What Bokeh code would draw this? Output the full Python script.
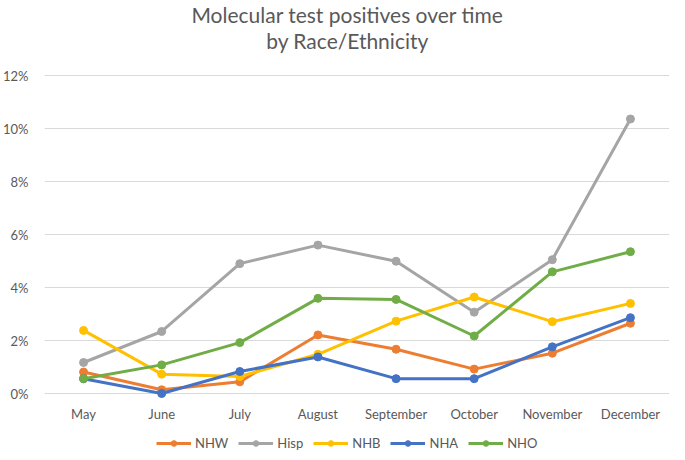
from bokeh.plotting import figure
from bokeh.models import (FactorRange, Range1d, PrintfTickFormatter, FixedTicker, Legend,
                          LegendItem, Label, LabelSet, ColumnDataSource)
from bokeh.core.properties import value
from bokeh.embed import file_html
from bokeh.resources import INLINE

months = ["May", "June", "July", "August", "September", "October", "November", "December"]
nhw = [0.81, 0.14, 0.44, 2.21, 1.67, 0.92, 1.52, 2.65]
hisp = [1.17, 2.34, 4.90, 5.60, 4.99, 3.07, 5.05, 10.36]
nhb = [2.38, 0.73, 0.64, 1.48, 2.73, 3.64, 2.71, 3.40]
nha = [0.56, 0.00, 0.83, 1.38, 0.56, 0.56, 1.76, 2.86]
nho = [0.56, 1.08, 1.92, 3.59, 3.55, 2.17, 4.59, 5.35]
y_ticks = [0, 2, 4, 6, 8, 10, 12]
title_lines = ["Molecular test positives over time", "by Race/Ethnicity"]

series = [
    ("NHW", nhw, "#ED7D31"),
    ("Hisp", hisp, "#A5A5A5"),
    ("NHB", nhb, "#FFC000"),
    ("NHA", nha, "#4472C4"),
    ("NHO", nho, "#70AD47"),
]

FONT = "Lato"
TXT = "#595959"
W, H = 669, 451
LEFT = 35
PLOT_TOP, PLOT_BOTTOM = 75, 393          # pixel rows of 12% and 0%
px_per_unit = (PLOT_BOTTOM - PLOT_TOP) / (y_ticks[-1] - y_ticks[0])
y0 = y_ticks[0] - (H - PLOT_BOTTOM) / px_per_unit
y1 = y_ticks[-1] + PLOT_TOP / px_per_unit

p = figure(x_range=FactorRange(*months, range_padding=0), y_range=Range1d(y0, y1),
           width=W, height=H, output_backend="svg", toolbar_location=None,
           min_border_left=LEFT, min_border_right=0, min_border_top=0, min_border_bottom=0)
p.outline_line_color = None
p.xaxis.visible = False
p.xgrid.grid_line_color = None
p.ygrid.grid_line_color = "#D9D9D9"
p.ygrid.grid_line_width = 1
p.yaxis.ticker = FixedTicker(ticks=y_ticks)
p.yaxis.formatter = PrintfTickFormatter(format="%d%%")
p.yaxis.axis_line_color = None
p.yaxis.major_tick_line_color = None
p.yaxis.minor_tick_line_color = None
p.yaxis.major_label_text_font = FONT
p.yaxis.major_label_text_font_size = "13px"
p.yaxis.major_label_text_color = TXT
p.yaxis.major_label_standoff = 10

# category labels under the plot
p.add_layout(LabelSet(x="m", y=H - 413, y_units="screen", text="m",
                      source=ColumnDataSource(dict(m=months)),
                      text_align="center", text_baseline="middle", text_font=value(FONT),
                      text_font_size=value("13px"), text_color=TXT))

# title (two centred lines)
for txt, base in zip(title_lines, [14, 40]):
    p.add_layout(Label(x=338 - LEFT, y=H - base, x_units="screen", y_units="screen", text=txt,
                       text_align="center", text_baseline="alphabetic", text_font=FONT,
                       text_font_size="21px", text_color=TXT))

items = []
for name, vals, col in series:
    r1 = p.line(months, vals, line_color=col, line_width=3)
    r2 = p.scatter(months, vals, size=8, fill_color=col, line_color=col)
    items.append(LegendItem(label=name, renderers=[r1, r2]))

legend = Legend(items=items, orientation="horizontal", location=(147 - LEFT, 0),
                border_line_color=None, background_fill_alpha=0, padding=0, margin=0,
                spacing=10, glyph_width=35, glyph_height=14, label_height=14, label_standoff=4,
                label_text_font=FONT, label_text_font_size="13px", label_text_color=TXT)
p.add_layout(legend, "center")

open("out.html", "w").write(file_html(p, INLINE))
